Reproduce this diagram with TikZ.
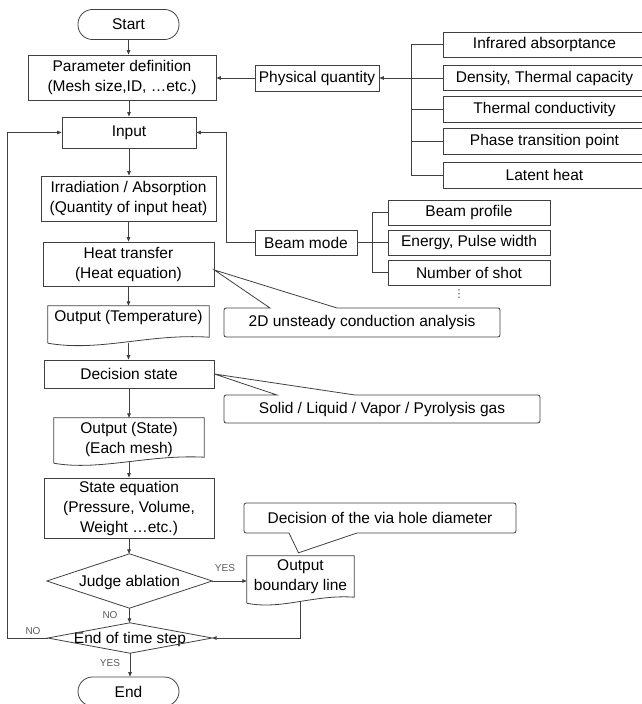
\documentclass[tikz,border=0pt]{standalone}
\usepackage{fontspec}
\setmainfont{Liberation Sans}
\newfontfamily\dejavu{DejaVu Sans}
\usetikzlibrary{arrows.meta,calc}
\definecolor{linec}{RGB}{64,64,64}
\definecolor{labc}{RGB}{90,90,90}
\begin{document}
\begin{tikzpicture}[x=1pt,y=-1pt,
  txt/.style={font=\fontsize{15.5}{20}\selectfont, align=center, text=black, inner sep=0pt},
  box/.style={txt, draw=linec, line width=0.8pt},
  term/.style={box, rounded corners=14.5pt},
  plain/.style={inner sep=0pt},
  arr/.style={draw=linec, line width=0.8pt, -{Triangle[length=4.5pt,width=3.6pt]}},
  ln/.style={draw=linec, line width=0.8pt},
  lab/.style={font=\fontsize{10}{12}\selectfont, text=labc, inner sep=0pt},
]
\useasboundingbox (0,0) rectangle (642,704);

% main column
\node[term, minimum width=101, minimum height=30] (start) at (128.5,24.5) {Start};
\node[box, minimum width=188, minimum height=45] (param) at (122,77.5) {Parameter definition\\(Mesh size,ID, …etc.)};
\node[box, minimum width=134, minimum height=31] (input) at (129,132.5) {Input};
\node[box, minimum width=175, minimum height=45] (irr) at (128.5,198.5) {Irradiation / Absorption\\(Quantity of input heat)};
\node[box, minimum width=171, minimum height=44] (heat) at (128.5,264) {Heat transfer\\(Heat equation)};
\node[plain, minimum width=161, minimum height=37] (otemp) at (128.5,324.5) {};
\node[txt] (otempt) at (128.5,317) {Output (Temperature)};
\node[box, minimum width=170, minimum height=28] (dec) at (129,374) {Decision state};
\node[plain, minimum width=150, minimum height=45] (ostate) at (129,440.5) {};
\node[txt] (ostatet) at (129,439) {Output (State)\\(Each mesh)};
\node[box, minimum width=170, minimum height=60] (stateeq) at (129,508) {State equation\\(Pressure, Volume,\\Weight …etc.)};
\node[plain, minimum width=165, minimum height=54] (judge) at (129.5,581) {};
\node[txt] (judget) at (129.5,582) {Judge ablation};
\node[plain, minimum width=164, minimum height=30] (ets) at (130,638) {};
\node[txt] (etst) at (130,639) {End of time step};
\node[term, minimum width=101, minimum height=29] (end) at (128.5,691.5) {End};
\node[plain, minimum width=107, minimum height=47] (obl) at (300.5,579.5) {};
\node[txt] (oblt) at (300.5,577) {Output\\boundary line};

% right side
\node[box, minimum width=124, minimum height=26] (phys) at (317,78) {Physical quantity};
\node[box, minimum width=203, minimum height=25] (infra) at (544.5,44.5) {Infrared absorptance};
\node[box, minimum width=203, minimum height=25] (dens) at (544.5,78) {Density, Thermal capacity};
\node[box, minimum width=203, minimum height=26] (cond) at (544.5,109) {Thermal conductivity};
\node[box, minimum width=203, minimum height=26] (phase) at (544.5,141) {Phase transition point};
\node[box, minimum width=203, minimum height=26] (latent) at (544.5,175) {Latent heat};
\node[box, minimum width=102, minimum height=25] (beam) at (306,242.5) {Beam mode};
\node[box, minimum width=162, minimum height=25] (prof) at (469,212.5) {Beam profile};
\node[box, minimum width=162, minimum height=25] (eng) at (469,242.5) {Energy, Pulse width};
\node[box, minimum width=162, minimum height=25] (shot) at (469,272.5) {Number of shot};
\node[font=\dejavu\fontsize{11}{11}\selectfont, text=linec, inner sep=0pt] (dots) at (459,294) {⋮};

% shapes
\draw[ln] (otemp.south west) -- (otemp.north west) -- (otemp.north east) -- ($(otemp.south east)+(0,-6)$) .. controls +(-60,-4) and +(52,9) .. (otemp.south west);
\draw[ln] (ostate.south west) -- (ostate.north west) -- (ostate.north east) -- ($(ostate.south east)+(0,-6)$) .. controls +(-55,-3) and +(45,8) .. (ostate.south west);
\draw[ln] (obl.south west) -- (obl.north west) -- (obl.north east) -- ($(obl.south east)+(0,-6)$) .. controls +(-40,-3) and +(35,7) .. (obl.south west);
\draw[ln] (judge.west) -- (judge.north) -- (judge.east) -- (judge.south) -- cycle;
\draw[ln] (ets.west) -- (ets.north) -- (ets.east) -- (ets.south) -- cycle;

% callouts
\coordinate (tipA) at ($(heat.east)+(0,6)$);
\draw[ln] (270,308) -- (tipA) -- (337,308) -- (495,308) .. controls (500,308) .. (500,313) -- (500,332) .. controls (500,337) .. (495,337) -- (229,337) .. controls (224,337) .. (224,332) -- (224,313) .. controls (224,308) .. (229,308) -- cycle;
\node[txt] (calA) at (362,322) {2D unsteady conduction analysis};
\draw[ln] (277,395) -- (dec.east) -- (355,395) -- (535,395) .. controls (540,395) .. (540,400) -- (540,418) .. controls (540,423) .. (535,423) -- (229,423) .. controls (224,423) .. (224,418) -- (224,400) .. controls (224,395) .. (229,395) -- cycle;
\node[txt] (calB) at (382,409) {Solid / Liquid / Vapor / Pyrolysis gas};
\coordinate (tipC) at ($(obl.north)+(-2,-3)$);
\draw[ln] (289,533) -- (tipC) -- (357,533) -- (511,533) .. controls (516,533) .. (516,528) -- (516,508) .. controls (516,503) .. (511,503) -- (249,503) .. controls (244,503) .. (244,508) -- (244,528) .. controls (244,533) .. (249,533) -- cycle;
\node[txt] (calC) at (380,518) {Decision of the via hole diameter};

% connectors
\draw[arr] (start.south) -- (start.south |- param.north);
\draw[arr] (input.north |- param.south) -- (input.north);
\draw[arr] (input.south) -- (input.south |- irr.north);
\draw[arr] (irr.south) -- (irr.south |- heat.north);
\draw[arr] (heat.south) -- (heat.south |- otemp.north);
\draw[arr] (otemp.south) -- (otemp.south |- dec.north);
\draw[arr] (dec.south) -- (dec.south |- ostate.north);
\draw[arr] ($(ostate.south)+(0,-1)$) -- (ostate.south |- stateeq.north);
\draw[arr] (stateeq.south) -- (stateeq.south |- judge.north);
\draw[arr] (judge.south) -- (judge.south |- ets.north);
\draw[arr] (ets.south) -- (ets.south |- end.north);
\draw[arr] (judge.east) -- (judge.east -| obl.west);
\draw[arr] ($(obl.south)+(0,-1)$) |- (ets.east);
\draw[arr] (ets.west) -- ++(-40,0) |- (input.west);
\draw[arr] (beam.west) -- ++(-28,0) |- (input.east);
\draw[arr] (phys.west) -- (phys.west -| param.east);
\draw[arr] (dens.west) -- (dens.west -| phys.east);
\draw[ln] (infra.west) -- ++(-31,0) coordinate (bk) -- (bk |- latent.west) -- (latent.west);
\draw[ln] (bk |- cond.west) -- (cond.west);
\draw[ln] (bk |- phase.west) -- (phase.west);
\draw[ln] (beam.east) -- (eng.west);
\draw[ln] (prof.west) -- ++(-15,0) coordinate (bk2) -- (bk2 |- shot.west) -- (shot.west);

% labels
\node[lab] (yes1) at (225,568) {YES};
\node[lab] (no1) at (110,615) {NO};
\node[lab] (no2) at (33,631) {NO};
\node[lab] (yes2) at (110,663) {YES};
\end{tikzpicture}
\end{document}
